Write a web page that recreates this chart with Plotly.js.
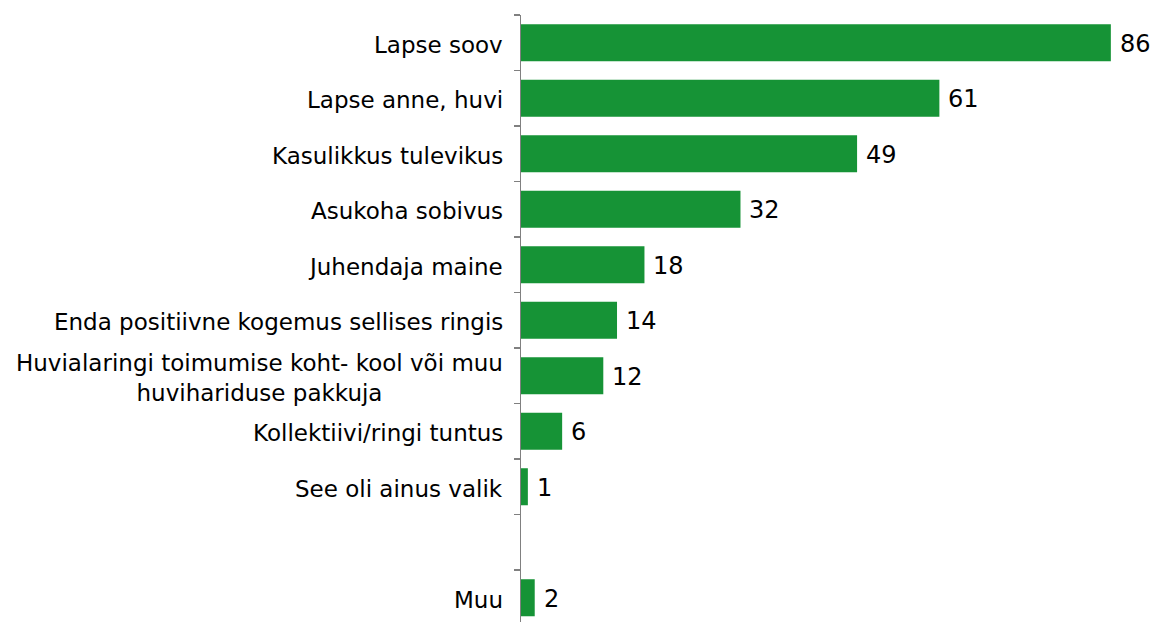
<!DOCTYPE html>
<html>
<head>
<meta charset="utf-8">
<script src="https://cdn.plot.ly/plotly-3.0.1.min.js"></script>
<style>html,body{margin:0;padding:0;background:#fff;}#chart{width:1156px;height:622px;}</style>
</head>
<body>
<div id="chart"></div>
<script>
const categories = ['Lapse soov','Lapse anne, huvi','Kasulikkus tulevikus','Asukoha sobivus','Juhendaja maine','Enda positiivne kogemus sellises ringis','Huvialaringi toimumise koht- kool või muu<br>huvihariduse pakkuja','Kollektiivi/ringi tuntus','See oli ainus valik',' ','Muu'];
const values = [86,61,49,32,18,14,12,6,1,null,2];

const FONT = 'DejaVu Sans, Verdana, sans-serif';
const annotations = [];
categories.forEach((c, i) => {
  annotations.push({
    xref: 'paper', x: 0, xanchor: 'right', xshift: -16,
    yref: 'y', y: c, yanchor: 'middle', yshift: -2,
    text: c, showarrow: false, align: 'center',
    font: {family: FONT, size: 23, color: '#000'}
  });
  if (values[i] !== null) {
    annotations.push({
      xref: 'x', x: values[i], xanchor: 'left', xshift: 7,
      yref: 'y', y: c, yanchor: 'middle', yshift: -1,
      text: String(values[i]), showarrow: false,
      font: {family: FONT, size: 24, color: '#000'}
    });
  }
});

const trace = {
  type: 'bar', orientation: 'h',
  y: categories, x: values,
  marker: {color: '#169336'},
  hoverinfo: 'none'
};

const layout = {
  width: 1156, height: 622,
  margin: {l: 521, r: 4, t: 15, b: 0},
  paper_bgcolor: '#fff', plot_bgcolor: '#fff',
  showlegend: false,
  bargap: 0.333,
  xaxis: {range: [0, 92], visible: false, fixedrange: true},
  yaxis: {
    type: 'category', categoryorder: 'array', categoryarray: categories,
    range: [10.437, -0.5],
    showline: true, linecolor: '#808080', linewidth: 1.3,
    ticks: 'outside', tickson: 'boundaries', ticklen: 6, tickcolor: '#808080', tickwidth: 1.3,
    showticklabels: false, showgrid: false, zeroline: false
  },
  annotations: annotations
};

Plotly.newPlot('chart', [trace], layout, {displayModeBar: false, staticPlot: true});
</script>
</body>
</html>
